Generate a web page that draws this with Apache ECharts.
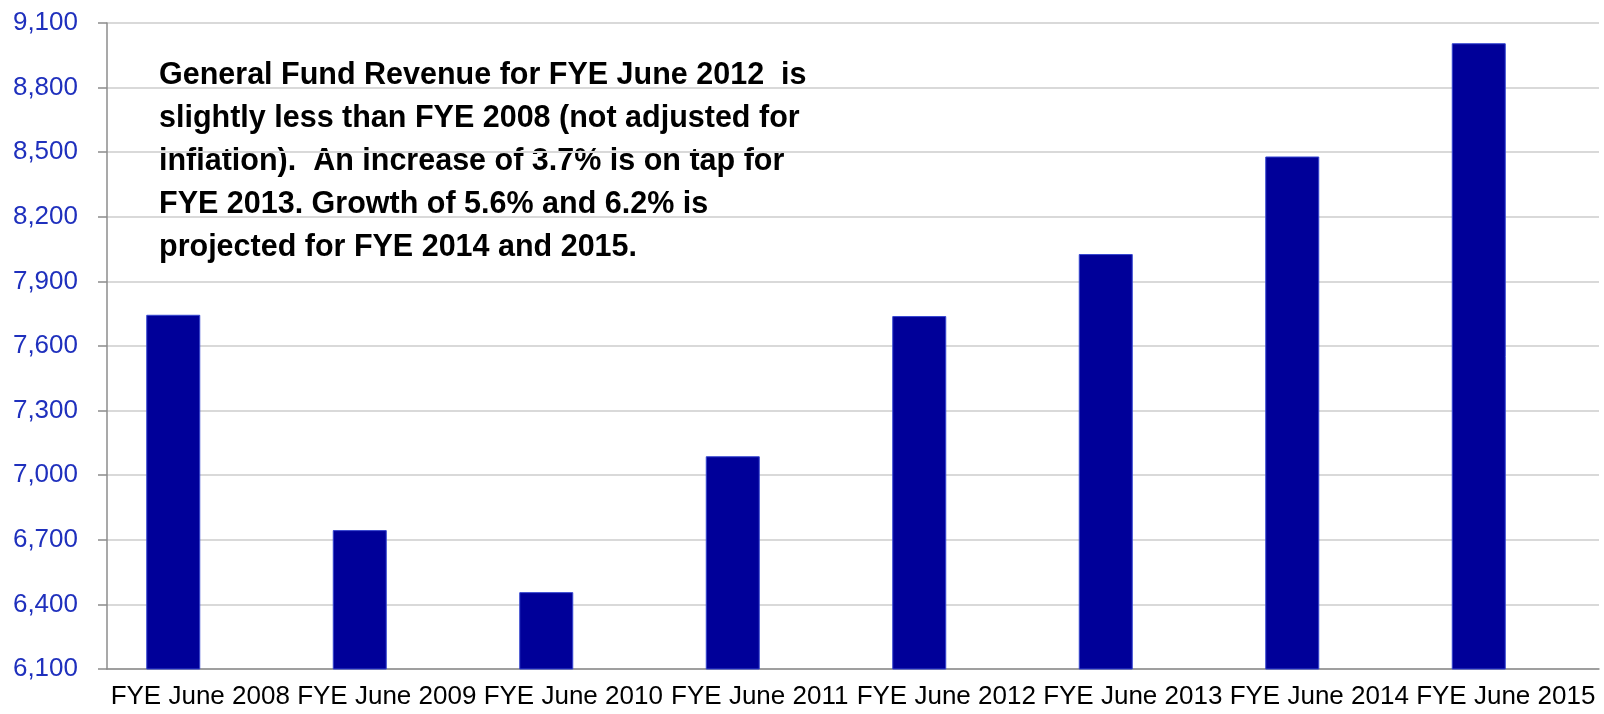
<!DOCTYPE html>
<html>
<head>
<meta charset="utf-8">
<script src="https://cdn.jsdelivr.net/npm/echarts@6/dist/echarts.min.js"></script>
<style>
  html, body { margin: 0; padding: 0; background: #fff; }
  #chart { width: 1604px; height: 714px; }
</style>
</head>
<body>
<div id="chart"></div>
<script>
// data
var categories = ['FYE June 2008', 'FYE June 2009', 'FYE June 2010', 'FYE June 2011',
                  'FYE June 2012', 'FYE June 2013', 'FYE June 2014', 'FYE June 2015'];
var revenue = [7745, 6745, 6457, 7088, 7739, 8027, 8480, 9006];
var emptySeries = [null, null, null, null, null, null, null, null];
var yMin = 6100;
var yMax = 9100;
var yStep = 300;
var noteLines = [
    'General Fund Revenue for FYE June 2012  is',
    'slightly less than FYE 2008 (not adjusted for',
    'inflation).  An increase of 3.7% is on tap for',
    'FYE 2013. Growth of 5.6% and 6.2% is',
    'projected for FYE 2014 and 2015.'
];

var chart = echarts.init(document.getElementById('chart'));
var option = {
    animation: false,
    grid: {
        left: 107,
        right: 5,
        top: 23,
        bottom: 45
    },
    xAxis: {
        type: 'category',
        data: categories,
        axisLine: { lineStyle: { color: '#8c8c8c', width: 1.5 } },
        axisTick: { length: 9, lineStyle: { color: '#8c8c8c', width: 1.5 } },
        axisLabel: {
            color: '#000',
            fontFamily: 'Liberation Sans',
            fontSize: 26,
            margin: 15,
            interval: 0
        }
    },
    yAxis: {
        type: 'value',
        min: yMin,
        max: yMax,
        interval: yStep,
        axisLine: { show: true, lineStyle: { color: '#8c8c8c', width: 1.5 } },
        axisTick: { show: true, length: 9, lineStyle: { color: '#8c8c8c', width: 1.5 } },
        axisLabel: {
            color: '#1f30bd',
            fontFamily: 'Liberation Sans',
            fontSize: 26,
            margin: 29
        },
        splitLine: { lineStyle: { color: '#d9d9d9', width: 2 } }
    },
    series: [{
        name: 'Revenue',
        type: 'bar',
        data: revenue,
        barWidth: 54,
        barGap: '0%',
        itemStyle: {
            color: '#000099',
            borderColor: '#3545d0',
            borderWidth: 1
        }
    }, {
        name: 'Blank',
        type: 'bar',
        data: emptySeries,
        barWidth: 54
    }],
    graphic: [{
        type: 'text',
        left: 159,
        top: 54,
        style: {
            text: noteLines.join('\n'),
            fill: '#000',
            font: 'bold 30.5px "Liberation Sans"',
            lineHeight: 43
        }
    }]
};
chart.setOption(option);
</script>
</body>
</html>
